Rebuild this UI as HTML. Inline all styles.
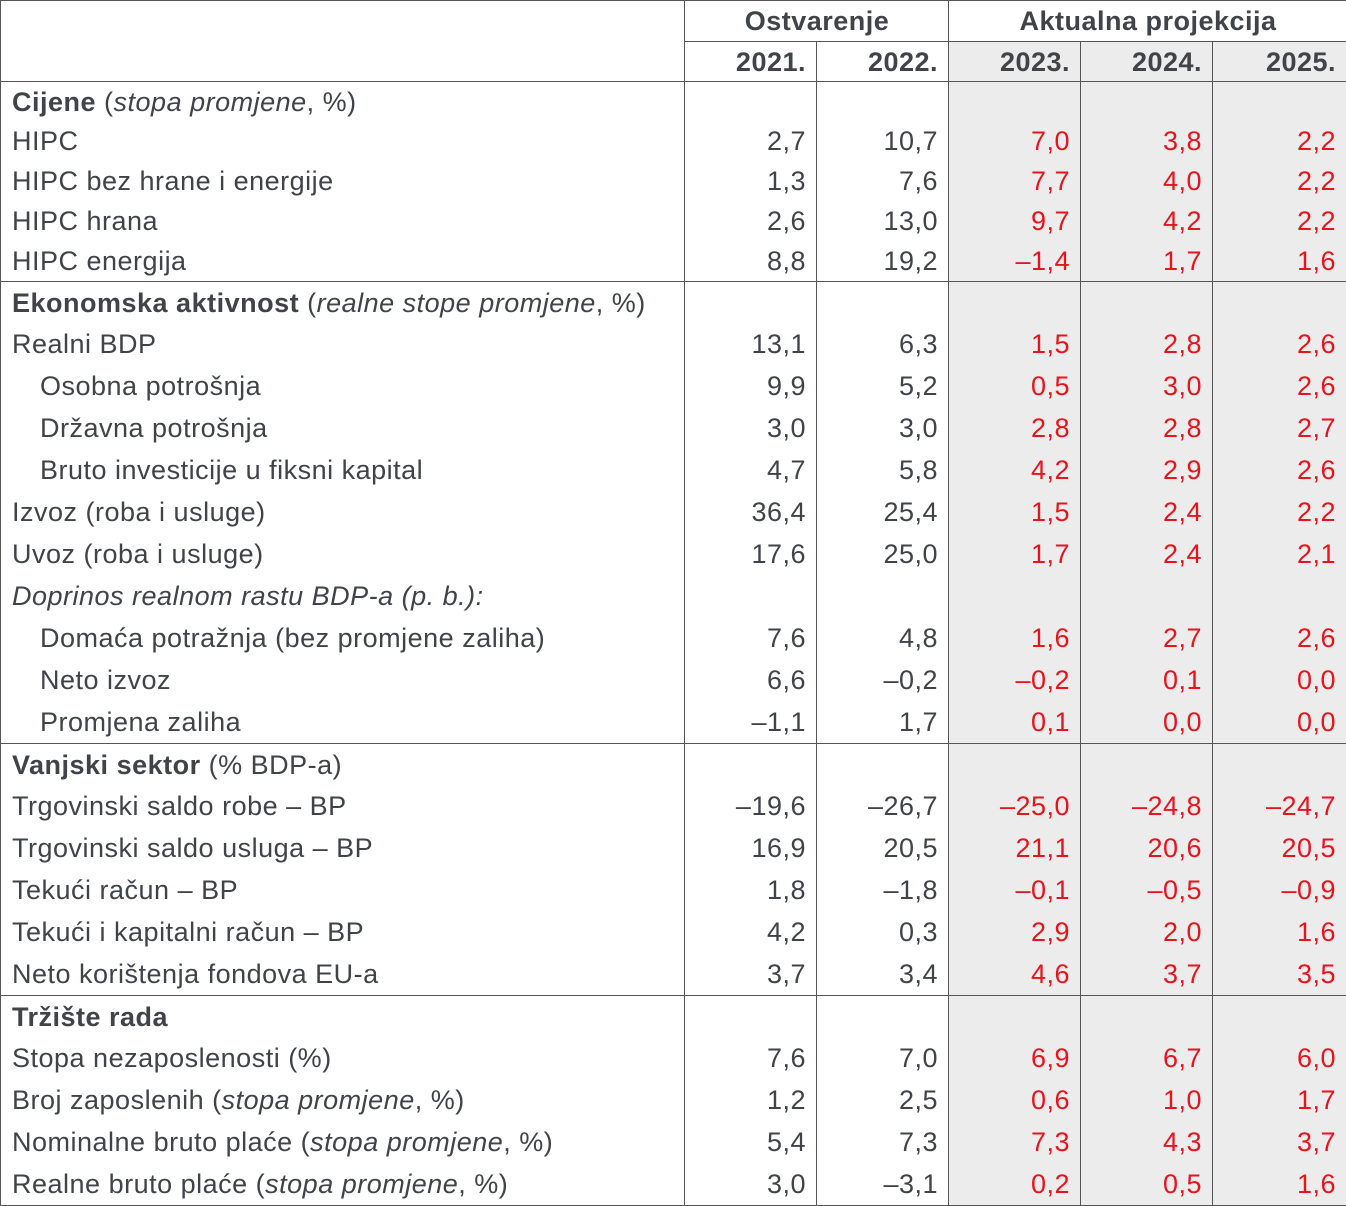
<!DOCTYPE html>
<html><head><meta charset="utf-8"><style>
body{margin:0;background:#fff;}
table{border-collapse:collapse;table-layout:fixed;position:absolute;left:0;top:0;width:1346px;font-family:"Liberation Sans",Arial,sans-serif;font-size:27px;color:#404348;letter-spacing:0.5px;}
td{border-left:1px solid #555;border-right:1px solid #555;padding:0 10px 0 11px;white-space:nowrap;overflow:hidden;line-height:30px;}
td.n{text-align:right;}
td.g{background:#ebeceb;color:#e8141c;}
tr.s td{border-top:1px solid #555;}
tr.h1 td{height:40px;text-align:center;font-weight:bold;border-top:1px solid #555;}
tr.h2 td{height:39px;text-align:right;font-weight:bold;border-top:1px solid #555;}
tr.a td{height:40px;}
tr.b td{height:42px;}
tr.a.s td{height:39px;}
tr.b.s td{height:41px;}
tr.last td{border-bottom:1px solid #555;}
.i{padding-left:39px;}
b{font-weight:bold}
</style></head><body>
<table>
<colgroup><col style="width:684px"><col style="width:132px"><col style="width:132px"><col style="width:132px"><col style="width:132px"><col style="width:134px"></colgroup>
<tr class="h1"><td rowspan="2" style="border-bottom:1px solid #555"></td><td colspan="2">Ostvarenje</td><td colspan="3">Aktualna projekcija</td></tr>
<tr class="h2"><td>2021.</td><td>2022.</td><td class="g" style="color:#404348">2023.</td><td class="g" style="color:#404348">2024.</td><td class="g" style="color:#404348">2025.</td></tr>
<tr class="a s"><td><b>Cijene</b> (<i>stopa promjene</i>, %)</td><td></td><td></td><td class="g"></td><td class="g"></td><td class="g"></td></tr>
<tr class="a"><td>HIPC</td><td class="n">2,7</td><td class="n">10,7</td><td class="n g">7,0</td><td class="n g">3,8</td><td class="n g">2,2</td></tr>
<tr class="a"><td>HIPC bez hrane i energije</td><td class="n">1,3</td><td class="n">7,6</td><td class="n g">7,7</td><td class="n g">4,0</td><td class="n g">2,2</td></tr>
<tr class="a"><td>HIPC hrana</td><td class="n">2,6</td><td class="n">13,0</td><td class="n g">9,7</td><td class="n g">4,2</td><td class="n g">2,2</td></tr>
<tr class="a"><td>HIPC energija</td><td class="n">8,8</td><td class="n">19,2</td><td class="n g">–1,4</td><td class="n g">1,7</td><td class="n g">1,6</td></tr>
<tr class="b s"><td><b>Ekonomska aktivnost</b> (<i>realne stope promjene</i>, %)</td><td></td><td></td><td class="g"></td><td class="g"></td><td class="g"></td></tr>
<tr class="b"><td>Realni BDP</td><td class="n">13,1</td><td class="n">6,3</td><td class="n g">1,5</td><td class="n g">2,8</td><td class="n g">2,6</td></tr>
<tr class="b"><td class="i">Osobna potrošnja</td><td class="n">9,9</td><td class="n">5,2</td><td class="n g">0,5</td><td class="n g">3,0</td><td class="n g">2,6</td></tr>
<tr class="b"><td class="i">Državna potrošnja</td><td class="n">3,0</td><td class="n">3,0</td><td class="n g">2,8</td><td class="n g">2,8</td><td class="n g">2,7</td></tr>
<tr class="b"><td class="i">Bruto investicije u fiksni kapital</td><td class="n">4,7</td><td class="n">5,8</td><td class="n g">4,2</td><td class="n g">2,9</td><td class="n g">2,6</td></tr>
<tr class="b"><td>Izvoz (roba i usluge)</td><td class="n">36,4</td><td class="n">25,4</td><td class="n g">1,5</td><td class="n g">2,4</td><td class="n g">2,2</td></tr>
<tr class="b"><td>Uvoz (roba i usluge)</td><td class="n">17,6</td><td class="n">25,0</td><td class="n g">1,7</td><td class="n g">2,4</td><td class="n g">2,1</td></tr>
<tr class="b"><td><i>Doprinos realnom rastu BDP-a (p. b.):</i></td><td></td><td></td><td class="g"></td><td class="g"></td><td class="g"></td></tr>
<tr class="b"><td class="i">Domaća potražnja (bez promjene zaliha)</td><td class="n">7,6</td><td class="n">4,8</td><td class="n g">1,6</td><td class="n g">2,7</td><td class="n g">2,6</td></tr>
<tr class="b"><td class="i">Neto izvoz</td><td class="n">6,6</td><td class="n">–0,2</td><td class="n g">–0,2</td><td class="n g">0,1</td><td class="n g">0,0</td></tr>
<tr class="b"><td class="i">Promjena zaliha</td><td class="n">–1,1</td><td class="n">1,7</td><td class="n g">0,1</td><td class="n g">0,0</td><td class="n g">0,0</td></tr>
<tr class="b s"><td><b>Vanjski sektor</b> (% BDP-a)</td><td></td><td></td><td class="g"></td><td class="g"></td><td class="g"></td></tr>
<tr class="b"><td>Trgovinski saldo robe – BP</td><td class="n">–19,6</td><td class="n">–26,7</td><td class="n g">–25,0</td><td class="n g">–24,8</td><td class="n g">–24,7</td></tr>
<tr class="b"><td>Trgovinski saldo usluga – BP</td><td class="n">16,9</td><td class="n">20,5</td><td class="n g">21,1</td><td class="n g">20,6</td><td class="n g">20,5</td></tr>
<tr class="b"><td>Tekući račun – BP</td><td class="n">1,8</td><td class="n">–1,8</td><td class="n g">–0,1</td><td class="n g">–0,5</td><td class="n g">–0,9</td></tr>
<tr class="b"><td>Tekući i kapitalni račun – BP</td><td class="n">4,2</td><td class="n">0,3</td><td class="n g">2,9</td><td class="n g">2,0</td><td class="n g">1,6</td></tr>
<tr class="b"><td>Neto korištenja fondova EU-a</td><td class="n">3,7</td><td class="n">3,4</td><td class="n g">4,6</td><td class="n g">3,7</td><td class="n g">3,5</td></tr>
<tr class="b s"><td><b>Tržište rada</b></td><td></td><td></td><td class="g"></td><td class="g"></td><td class="g"></td></tr>
<tr class="b"><td>Stopa nezaposlenosti (%)</td><td class="n">7,6</td><td class="n">7,0</td><td class="n g">6,9</td><td class="n g">6,7</td><td class="n g">6,0</td></tr>
<tr class="b"><td>Broj zaposlenih (<i>stopa promjene</i>, %)</td><td class="n">1,2</td><td class="n">2,5</td><td class="n g">0,6</td><td class="n g">1,0</td><td class="n g">1,7</td></tr>
<tr class="b"><td>Nominalne bruto plaće (<i>stopa promjene</i>, %)</td><td class="n">5,4</td><td class="n">7,3</td><td class="n g">7,3</td><td class="n g">4,3</td><td class="n g">3,7</td></tr>
<tr class="b last"><td>Realne bruto plaće (<i>stopa promjene</i>, %)</td><td class="n">3,0</td><td class="n">–3,1</td><td class="n g">0,2</td><td class="n g">0,5</td><td class="n g">1,6</td></tr>
</table>
</body></html>
